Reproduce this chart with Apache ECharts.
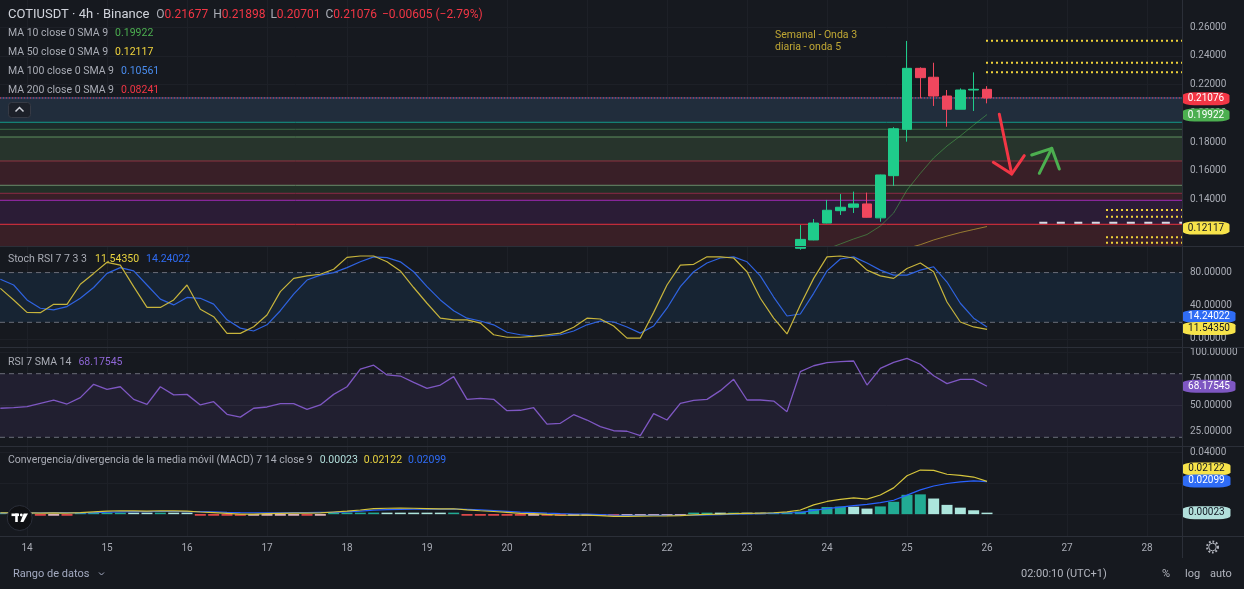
<!DOCTYPE html>
<html>
<head>
<meta charset="utf-8">
<title>COTIUSDT 4h</title>
<script src="https://cdn.jsdelivr.net/npm/echarts@6.0.0/dist/echarts.min.js"></script>
<style>
html,body{margin:0;padding:0;background:#16191f;overflow:hidden;}
#chart{width:1244px;height:589px;}
</style>
</head>
<body>
<div id="chart"></div>
<script>
// ================= DATA =================
const dayTicks = [14,15,16,17,18,19,20,21,22,23,24,25,26,27,28];
const firstBarDay = 13 + 16/24;     // first 4h bar in view
const barStepDay = 4/24;

// visible candles (index 60..74)
const candleFirstIndex = 60;
const candleOpen  = [0.1060,0.1118,0.1236,0.1322,0.1346,0.1369,0.1272,0.1566,0.1889,0.2314,0.2252,0.2121,0.2029,0.2163,0.21677];
const candleClose = [0.1122,0.1236,0.1325,0.1346,0.1369,0.1276,0.1571,0.1893,0.2314,0.2249,0.2121,0.2029,0.2163,0.2168,0.21076];
const candleLow   = [0.1050,0.1116,0.1234,0.1292,0.1306,0.1274,0.1245,0.1495,0.1803,0.2105,0.2052,0.1907,0.2029,0.2017,0.20701];
const candleHigh  = [0.1222,0.1264,0.1397,0.1438,0.1455,0.1448,0.1573,0.1904,0.2505,0.2321,0.2353,0.2163,0.2174,0.2286,0.21898];

const ma10Start = 62;
const ma10 = [0.1055,0.1090,0.1125,0.1156,0.1215,0.1306,0.1466,0.1582,0.1690,0.1773,0.1843,0.1919,0.19922];
const ma50Start = 68;
const ma50 = [0.1060,0.1085,0.1118,0.1145,0.1170,0.1191,0.12117];

const stochK = [61,47,32,31.6,41.7,41.7,65.9,79,92.4,89,63,38,38,47,65,35.7,26.8,6.7,6.7,14.7,28.8,57,73,76,78,84,98.4,100,100,93,82,62,
  43,25,23,23,19,5,2,2,3,5,7,14,25,24,15.5,1,1,32,65,89,90,99,99,97.6,81,49,25,6,41,73,99,100,97.6,83,76,73,85,91.5,81,44.5,20.4,14.4,11.5435];
const stochD = [72,65,47,37,35,39,49,62,79,86,82,65,48,41,50,49,42,23,13,9.5,17,34,54,71,77,80,86,93,99,98,93,81,
  63,47,34,25,21.6,17,8,5,3.5,3.5,5,9.5,17,21.6,20.4,14.4,7,15.6,37,63,81,91.5,97.6,99,93,76,50.5,27.6,30,55,82,96.4,99,91.5,83,77,77,83,87,68.6,43,25,14.24022];

const rsi = [47.4,48,48.9,52,55,51.4,57.4,70,65.3,67.7,55.8,51,67.7,60,60.5,50.5,53.6,41.7,39,47.4,
  48.6,51.7,51.7,46.4,50.5,60.5,67.7,84.4,88,78.8,77.8,71.9,66.2,69.3,77.2,55.8,56.8,55.8,45.1,45.5,
  47.9,32.5,33.2,41.3,36.3,30,26.2,25.7,21.5,42.3,36.3,52,54.9,55.8,64,74.7,55.2,55.2,54.2,44.2,
  81.9,87.5,90.4,91.3,92,69.3,85.1,90.7,94.5,88.9,78.1,70.6,74.7,74.7,68.17545];

const macdLine = [0.0008,0.0009,0.0008,0.0007,0.0008,0.0006,0.0010,0.0015,0.0019,0.0022,
  0.0021,0.0020,0.0022,0.0021,0.0019,0.0014,0.0010,0.0005,0.0000,0.0000,
  0.0003,0.0005,0.0007,0.0006,0.0008,0.0014,0.0020,0.0027,0.0036,0.0038,
  0.0039,0.0038,0.0036,0.0034,0.0035,0.0028,0.0022,0.0017,0.0011,0.0005,
  0.0004,-0.0002,-0.0007,-0.0007,-0.0006,-0.0010,-0.0015,-0.0014,-0.0013,-0.0012,
  -0.0011,-0.0009,-0.0005,-0.0001,0.0000,0.0004,0.0005,0.0006,0.0009,0.0015,
  0.0027,0.0060,0.0082,0.0095,0.0105,0.0097,0.0124,0.0170,0.0248,0.0285,0.0283,0.0258,0.0251,0.0240,0.02122];
const macdSignal = [0.0006,0.0007,0.0008,0.0009,0.0010,0.0010,0.0008,0.0010,0.0013,0.0015,
  0.0016,0.0016,0.0017,0.0017,0.0016,0.0017,0.0015,0.0012,0.0010,0.0009,
  0.0008,0.0009,0.0010,0.0010,0.0011,0.0011,0.0015,0.0020,0.0026,0.0029,
  0.0031,0.0032,0.0032,0.0032,0.0032,0.0031,0.0027,0.0023,0.0018,0.0013,
  0.0010,0.0006,0.0003,0.0001,0.0000,-0.0003,-0.0006,-0.0008,-0.0008,-0.0008,
  -0.0008,-0.0007,-0.0007,-0.0005,-0.0003,0.0000,0.0002,0.0004,0.0006,0.0009,
  0.0010,0.0024,0.0036,0.0046,0.0055,0.0063,0.0074,0.0090,0.0123,0.0157,0.0182,0.0198,0.0209,0.0215,0.02099];
const macdHist = [0.0003,0.0002,0.0001,-0.0003,-0.0003,-0.0004,0.0003,0.0005,0.0006,0.0007,
  0.0005,0.0004,0.0005,0.0004,0.0003,-0.0003,-0.0005,-0.0007,-0.0010,-0.0009,
  -0.0005,-0.0004,-0.0003,-0.0004,-0.0003,0.0003,0.0005,0.0007,0.0010,0.0009,
  0.0008,0.0006,0.0004,0.0002,0.0003,-0.0003,-0.0005,-0.0006,-0.0007,-0.0008,
  -0.0006,-0.0008,-0.0010,-0.0008,-0.0006,-0.0007,-0.0009,-0.0006,-0.0005,-0.0004,
  -0.0003,-0.0002,0.0002,0.0004,0.0003,0.0004,0.0003,0.0002,0.0003,0.0006,
  0.0017,0.0034,0.0046,0.0049,0.0048,0.0036,0.0050,0.0080,0.0125,0.0128,0.0101,0.0060,0.0042,0.0025,0.00023];

// axis tick labels
const priceTicks = [0.12,0.14,0.16,0.18,0.20,0.22,0.24,0.26];
const stochTicks = [0,40,80];
const rsiTicks = [25,50,75,100];
const macdTicks = [0,0.02,0.04];

// horizontal zones (drawings) – boundaries from top to bottom
const zoneLevels = [0.2106,0.1938,0.18892,0.18355,0.16683,0.1499,0.14432,0.13944,0.12272,0.1076];
const zoneFills = ['#212d3c','#1c2b2a','#1f2c27','#27342c','#391f27','#223027','#391f27','#2b1c36','#391f26'];
const zoneLineColors = ['#3f63a0','#14998a','#3c6a47','#5e8f5f','#8f3443','#6a8d6a','#8d2b45','#a22bb8','#e8303f'];
const lastPrice = 0.21076;

const dottedTopStart = 25.9875;
const dottedTop = [0.25066,0.23533,0.22864];
const dottedLowStart = 27.4875;
const dottedLow = [0.13268,0.12801,0.11366,0.10990];
const whiteDashStart = 26.654;
const whiteDash = 0.12383;

const redArrowShaft = [[26.154,0.19937],[26.309,0.15777]];
const redArrowHead  = [[26.079,0.16592],[26.309,0.15777],[26.466,0.17052]];
const greenArrowShaft = [[26.654,0.15826],[26.809,0.17568]];
const greenArrowHead  = [[26.559,0.17101],[26.809,0.17568],[26.904,0.16125]];

const noteDay = 23.35;
const noteTexts = ['Semanal - Onda 3','diaria - onda 5'];
const notePrices = [0.25463,0.24627];

// ================= LAYOUT / STYLE =================
const FONT = 'Roboto, "Noto Sans", sans-serif';
const BG = '#16191f';
const GRID_W = 1182;
const X_MIN = 13.6625, X_MAX = 28.4375;
const GRIDLINE = '#1d2027';
const AXIS_TXT = '#a9acb5';
const LEG = '#a9acb5';
const RED = '#f23645';
const UP = '#1fcc8b', DOWN = '#f0475e';

const xOf = i => firstBarDay + i * barStepDay;

const chart = echarts.init(document.getElementById('chart'), null, {renderer:'canvas'});

function yAx(g, min, max, ticks) {
  return {
    type:'value', gridIndex:g, position:'right', min, max,
    axisLine:{show:false},
    axisTick:{show:false, customValues:ticks},
    axisLabel:{show:true, customValues:ticks, color:AXIS_TXT, fontSize:10, fontFamily:FONT, margin:8,
      formatter: v => Number(v).toFixed(5)},
    splitLine:{show:true, lineStyle:{color:GRIDLINE, width:1}}
  };
}

function hLine(xi, yi, x0, x1, y, style, z) {
  return {type:'line', xAxisIndex:xi, yAxisIndex:yi, data:[[x0,y],[x1,y]], symbol:'none', silent:true,
    lineStyle:style, z: z == null ? 2 : z};
}

function box(value, text, bg, fg, w, dy) {
  return {coord:[X_MAX, value], value:text, symbol:'roundRect', symbolSize:[w,13], symbolOffset:[w/2+0.5, dy],
    itemStyle:{color:bg},
    label:{show:true, position:'inside', color:fg, fontSize:10, fontFamily:FONT, formatter:text}};
}

function histColor(i) {
  const v = macdHist[i], p = i > 0 ? macdHist[i-1] : 0;
  if (v >= 0) return v > p ? '#22ab94' : '#ace5dc';
  return v < p ? '#ff5252' : '#ffcdd2';
}

const series = [];

// --- price pane: zones ---
series.push({
  type:'line', xAxisIndex:0, yAxisIndex:0, data:[], silent:true,
  markArea:{silent:true, data: zoneFills.map((c,k)=>[{yAxis:zoneLevels[k], itemStyle:{color:c}},{yAxis:zoneLevels[k+1]}])}
});
zoneLineColors.forEach((c,k)=>{
  if (k === 0) return;
  series.push(hLine(0,0,X_MIN,X_MAX,zoneLevels[k],{color:c,width:1},1));
});
// last price line
series.push(hLine(0,0,X_MIN,X_MAX,lastPrice,{color:zoneLineColors[0],width:1},1));
series.push(hLine(0,0,X_MIN,X_MAX,lastPrice,{color:RED,width:1,type:[1,2]},1));

// candles
series.push({
  type:'candlestick', xAxisIndex:0, yAxisIndex:0, z:3, barWidth:10, silent:true,
  data: candleOpen.map((o,k)=>[xOf(candleFirstIndex+k), o, candleClose[k], candleLow[k], candleHigh[k]]),
  encode:{x:0, y:[1,2,3,4]},
  itemStyle:{color:UP, color0:DOWN, borderColor:UP, borderColor0:DOWN, borderWidth:1}
});
// MAs
series.push({type:'line', xAxisIndex:0, yAxisIndex:0, symbol:'none', silent:true, z:2,
  data: ma10.map((v,k)=>[xOf(ma10Start+k), v]), lineStyle:{color:'rgba(76,175,80,0.55)', width:1}});
series.push({type:'line', xAxisIndex:0, yAxisIndex:0, symbol:'none', silent:true, z:2,
  data: ma50.map((v,k)=>[xOf(ma50Start+k), v]), lineStyle:{color:'rgba(230,200,60,0.55)', width:1}});

// drawings
dottedTop.forEach(p => series.push(hLine(0,0,dottedTopStart,X_MAX,p,{color:'#f0d23a',width:2,type:[2,3]},4)));
dottedLow.forEach(p => series.push(hLine(0,0,dottedLowStart,X_MAX,p,{color:'#f0d23a',width:2,type:[2,3]},4)));
series.push(hLine(0,0,whiteDashStart,X_MAX,whiteDash,{color:'#d9d9e3',width:2,type:[8,9.5]},4));
[[redArrowShaft,RED],[redArrowHead,RED],[greenArrowShaft,'#4caf50'],[greenArrowHead,'#4caf50']].forEach(a=>{
  series.push({type:'line', xAxisIndex:0, yAxisIndex:0, symbol:'none', silent:true, z:4,
    data:a[0], lineStyle:{color:a[1], width:3, cap:'round', join:'round'}});
});
series.push({type:'scatter', xAxisIndex:0, yAxisIndex:0, symbolSize:0, silent:true, z:4,
  data: noteTexts.map((t,k)=>[noteDay, notePrices[k], t]),
  label:{show:true, position:'right', distance:0, color:'#e8c93a', fontSize:10.5, fontFamily:FONT,
    formatter: p => p.data[2]}});
// price axis boxes
series.push({type:'line', xAxisIndex:0, yAxisIndex:0, data:[], silent:true,
  markPoint:{silent:true, animation:false, data:[
    box(0.21076,'0.21076',RED,'#ffffff',47,0.8),
    box(0.19922,'0.19922','#4caf50','#ffffff',47,0.5),
    box(0.12117,'0.12117','#f7e34a','#131722',47,1.6)
  ]}});

// --- Stoch RSI pane ---
series.push({type:'line', xAxisIndex:1, yAxisIndex:1, data:[], silent:true,
  markArea:{silent:true, itemStyle:{color:'#172433'}, data:[[{yAxis:80},{yAxis:20}]]}});
series.push(hLine(1,1,X_MIN,X_MAX,80,{color:'#6a6d78',width:1,type:[5,4]},2));
series.push(hLine(1,1,X_MIN,X_MAX,20,{color:'#6a6d78',width:1,type:[5,4]},2));
series.push({type:'line', xAxisIndex:1, yAxisIndex:1, symbol:'none', silent:true, z:3,
  data: stochD.map((v,i)=>[xOf(i), v]), lineStyle:{color:'#2f63e0', width:1.2}});
series.push({type:'line', xAxisIndex:1, yAxisIndex:1, symbol:'none', silent:true, z:3,
  data: stochK.map((v,i)=>[xOf(i), v]), lineStyle:{color:'#c7b43c', width:1.2}});
series.push({type:'line', xAxisIndex:1, yAxisIndex:1, data:[], silent:true,
  markPoint:{silent:true, animation:false, data:[
    box(14.24022,'14.24022','#2f6cf5','#ffffff',53,-10.6),
    box(11.5435,'11.54350','#f7e34a','#131722',53,-0.8)
  ]}});

// --- RSI pane ---
series.push({type:'line', xAxisIndex:2, yAxisIndex:2, data:[], silent:true,
  markArea:{silent:true, itemStyle:{color:'#211f30'}, data:[[{yAxis:80},{yAxis:20}]]}});
series.push(hLine(2,2,X_MIN,X_MAX,50,{color:'#2c2a3b',width:1},2));
series.push(hLine(2,2,X_MIN,X_MAX,80,{color:'#6a6d78',width:1,type:[5,4]},2));
series.push(hLine(2,2,X_MIN,X_MAX,20,{color:'#6a6d78',width:1,type:[5,4]},2));
series.push({type:'line', xAxisIndex:2, yAxisIndex:2, symbol:'none', silent:true, z:3,
  data: rsi.map((v,i)=>[xOf(i), v]), lineStyle:{color:'#7e57c2', width:1.3}});
series.push({type:'line', xAxisIndex:2, yAxisIndex:2, data:[], silent:true,
  markPoint:{silent:true, animation:false, data:[ box(68.17545,'68.17545','#7e57c2','#ffffff',53,0) ]}});

// --- MACD pane ---
series.push({type:'bar', xAxisIndex:3, yAxisIndex:3, barWidth:11, barMinHeight:1.5, silent:true, z:2,
  data: macdHist.map((v,i)=>[xOf(i), v]),
  itemStyle:{color: p => histColor(p.dataIndex)}});
series.push({type:'line', xAxisIndex:3, yAxisIndex:3, symbol:'none', silent:true, z:3,
  data: macdSignal.map((v,i)=>[xOf(i), v]), lineStyle:{color:'#2962ff', width:1.2}});
series.push({type:'line', xAxisIndex:3, yAxisIndex:3, symbol:'none', silent:true, z:3,
  data: macdLine.map((v,i)=>[xOf(i), v]), lineStyle:{color:'#d6c53c', width:1.2}});
series.push({type:'line', xAxisIndex:3, yAxisIndex:3, data:[], silent:true,
  markPoint:{silent:true, animation:false, data:[
    box(0.02122,'0.02122','#f7e34a','#131722',48,-12.4),
    box(0.02099,'0.02099','#2f6cf5','#ffffff',48,-0.8),
    box(0.00023,'0.00023','#b2dfdb','#131722',48,-1)
  ]}});

// ================= GRAPHICS (legends, frame) =================
function richText(x, y, parts) {
  const rich = {}; let text = '';
  parts.forEach((p,k)=>{
    const key = 'p'+k;
    rich[key] = {fill:p[1], fontSize:p[2], fontFamily:FONT, padding:[0,0,0,p[3]||0]};
    text += '{'+key+'|'+p[0]+'}';
  });
  return {type:'text', x, y, silent:true, z:100, style:{text, rich, verticalAlign:'middle', align:'left'}};
}
function gLine(x1,y1,x2,y2,color,w) {
  return {type:'line', silent:true, z:90, shape:{x1,y1,x2,y2}, style:{stroke:color, lineWidth:w||1}};
}
const SEP = '#2b2f38';
const graphics = [
  gLine(0,246.5,1244,246.5,SEP), gLine(0,347.5,1244,347.5,SEP), gLine(0,446.5,1244,446.5,SEP),
  gLine(0,536.5,1244,536.5,SEP), gLine(1182.5,0,1182.5,558,SEP),
  richText(8,15,[['COTIUSDT · 4h · Binance','#d1d4dc',13,0],['O',LEG,12,7],['0.21677',RED,12,0],
    ['H',LEG,12,5],['0.21898',RED,12,0],['L',LEG,12,5],['0.20701',RED,12,0],['C',LEG,12,5],['0.21076',RED,12,0],
    ['−0.00605 (−2.79%)',RED,12,5]]),
  richText(8,33,[['MA 10 close 0 SMA 9',LEG,10.5,0],['0.19922','#4caf50',10.5,7]]),
  richText(8,52,[['MA 50 close 0 SMA 9',LEG,10.5,0],['0.12117','#f2d53c',10.5,7]]),
  richText(8,71,[['MA 100 close 0 SMA 9',LEG,10.5,0],['0.10561','#4a8df0',10.5,7]]),
  richText(8,90,[['MA 200 close 0 SMA 9',LEG,10.5,0],['0.08241',RED,10.5,7]]),
  richText(8,259,[['Stoch RSI 7 7 3 3',LEG,10.5,0],['11.54350','#e8d33f',10.5,8],['14.24022','#2f6cf5',10.5,7]]),
  richText(8,362,[['RSI 7 SMA 14',LEG,10.5,0],['68.17545','#8e66d6',10.5,7]]),
  richText(8,460,[['Convergencia/divergencia de la media móvil (MACD) 7 14 close 9',LEG,10.5,0],
    ['0.00023','#b2dfdb',10.5,7],['0.02122','#e8d33f',10.5,6],['0.02099','#2f6cf5',10.5,6]]),
  // collapse button
  {type:'rect', silent:true, z:95, shape:{x:8.5,y:102.5,width:22,height:15,r:3}, style:{fill:'#1c2029',stroke:'#363a45',lineWidth:1}},
  {type:'polyline', silent:true, z:96, shape:{points:[[15.5,111.5],[19.5,107.5],[23.5,111.5]]}, style:{stroke:'#d1d4dc',lineWidth:1.5,fill:null}},
  // TV logo
  {type:'circle', silent:true, z:95, shape:{cx:19.7,cy:518,r:12.5}, style:{fill:'#0f1013',stroke:'#2a2e39',lineWidth:1}},
  {type:'rect', silent:true, z:96, shape:{x:11.5,y:513.5,width:7.5,height:2.6}, style:{fill:'#ffffff'}},
  {type:'rect', silent:true, z:96, shape:{x:15.2,y:513.5,width:2.6,height:8.5}, style:{fill:'#ffffff'}},
  {type:'circle', silent:true, z:96, shape:{cx:21.3,cy:515,r:1.4}, style:{fill:'#ffffff'}},
  {type:'polygon', silent:true, z:96, shape:{points:[[23.6,513.5],[28,513.5],[23.4,522],[20.4,522]]}, style:{fill:'#ffffff'}},
  // bottom toolbar
  richText(13,574,[['Rango de datos','#a4abc2',11,0]]),
  {type:'polyline', silent:true, z:96, shape:{points:[[99,572.5],[101.5,575],[104,572.5]]}, style:{stroke:'#a4abc2',lineWidth:1,fill:null}},
  richText(1021,574,[['02:00:10 (UTC+1)','#b2b5be',11,0]]),
  richText(1162,574,[['%','#b2b5be',11,0]]),
  richText(1185,574,[['log','#b2b5be',11,0]]),
  richText(1210,574,[['auto','#b2b5be',11,0]]),
  // gear
  {type:'circle', silent:true, z:96, shape:{cx:1212.5,cy:547,r:5.5}, style:{fill:null,stroke:'#b2b5be',lineWidth:2,lineDash:[1.8,1.8]}},
  {type:'circle', silent:true, z:96, shape:{cx:1212.5,cy:547,r:3.8}, style:{fill:BG,stroke:'#b2b5be',lineWidth:1}}
];

const option = {
  backgroundColor: BG,
  animation: false,
  textStyle:{fontFamily:FONT},
  grid:[
    {left:0, top:0, width:GRID_W, height:246},
    {left:0, top:247, width:GRID_W, height:100},
    {left:0, top:348, width:GRID_W, height:98},
    {left:0, top:447, width:GRID_W, height:89}
  ],
  xAxis:[0,1,2,3].map(g=>({
    type:'value', gridIndex:g, min:X_MIN, max:X_MAX,
    axisLine:{show:false}, axisTick:{show:false, customValues:dayTicks},
    splitLine:{show:true, lineStyle:{color:GRIDLINE, width:1}},
    axisLabel: g === 3
      ? {show:true, customValues:dayTicks, color:AXIS_TXT, fontSize:10, fontFamily:FONT, margin:7, formatter: v => String(v)}
      : {show:false}
  })),
  yAxis:[
    yAx(0, 0.107596, 0.279024, priceTicks),
    yAx(1, -9.77, 110.86, stochTicks),
    yAx(2, 11.79, 104.25, rsiTicks),
    yAx(3, -0.014129, 0.043419, macdTicks)
  ],
  series,
  graphic: graphics
};
chart.setOption(option);
</script>
</body>
</html>
